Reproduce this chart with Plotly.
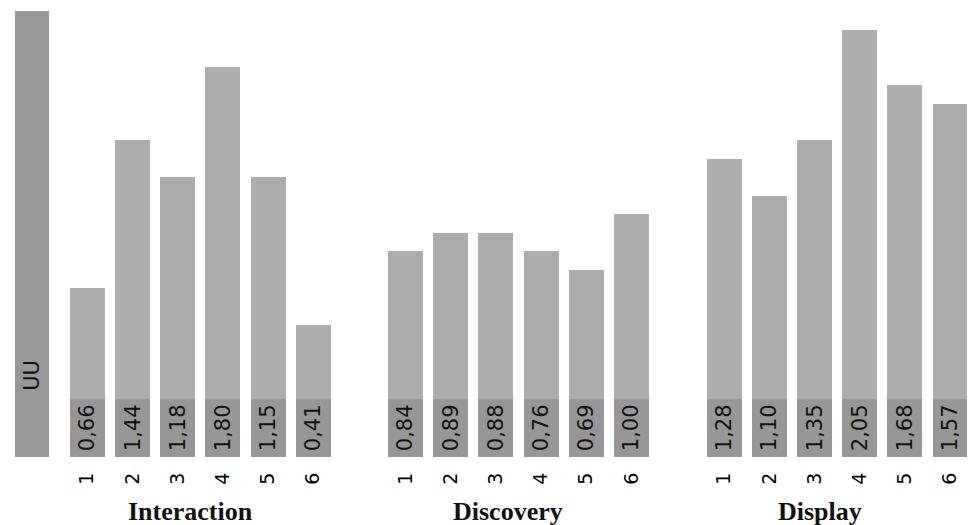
import plotly.graph_objects as go

# ---- data ----
group_names = ["Interaction", "Discovery", "Display"]
categories = ["1", "2", "3", "4", "5", "6"]
interaction_scores = [3, 7, 6, 9, 6, 2]
discovery_scores = [4, 4.5, 4.5, 4, 3.5, 5]
display_scores = [6.5, 5.5, 7, 10, 8.5, 8]
interaction_labels = ["0,66", "1,44", "1,18", "1,80", "1,15", "0,41"]
discovery_labels = ["0,84", "0,89", "0,88", "0,76", "0,69", "1,00"]
display_labels = ["1,28", "1,10", "1,35", "2,05", "1,68", "1,57"]
uu_category = ["UU"]
uu_score = [10.5]
band_height = 1.58

# ---- styles ----
LIGHT = "#ADADAD"
DARK = "#979797"
UU_COLOR = "#989898"
NUM_FONT = dict(family="DejaVu Sans", size=21, color="#111111")
TITLE_FONT = dict(family="Liberation Serif", size=26, color="#111111")

fig = go.Figure()

# UU bar
fig.add_trace(go.Bar(x=uu_category, y=[band_height], marker=dict(color=UU_COLOR, line=dict(width=0)),
                     xaxis="x", yaxis="y", hoverinfo="skip"))
fig.add_trace(go.Bar(x=uu_category, y=uu_score, marker=dict(color=UU_COLOR, line=dict(width=0)),
                     xaxis="x", yaxis="y", hoverinfo="skip"))

series = [
    (interaction_scores, interaction_labels, "x2"),
    (discovery_scores, discovery_labels, "x3"),
    (display_scores, display_labels, "x4"),
]
for scores, labels, xa in series:
    fig.add_trace(go.Bar(
        x=categories, y=[band_height] * len(categories), text=labels,
        textposition="inside", insidetextanchor="middle", textangle=-90,
        constraintext="none", insidetextfont=NUM_FONT,
        marker=dict(color=DARK, line=dict(width=0)),
        xaxis=xa, yaxis="y", hoverinfo="skip"))
    fig.add_trace(go.Bar(
        x=categories, y=scores,
        marker=dict(color=LIGHT, line=dict(width=0)),
        xaxis=xa, yaxis="y", hoverinfo="skip"))

common_x = dict(anchor="y", showgrid=False, zeroline=False, showline=False,
                type="category", fixedrange=True)
tick_x = dict(tickangle=-90, ticks="outside", ticklen=7, tickcolor="rgba(0,0,0,0)",
              tickfont=dict(family="DejaVu Sans", size=19, color="#000000"))

fig.update_layout(
    width=970, height=525,
    margin=dict(l=0, r=0, t=0, b=68, pad=0),
    paper_bgcolor="white", plot_bgcolor="white",
    barmode="stack", bargap=0.226, showlegend=False,
    yaxis=dict(domain=[0, 1], range=[0, 12.385], visible=False, anchor="x", fixedrange=True),
    xaxis=dict(domain=[0.0097, 0.0563], showticklabels=False, **common_x),
    xaxis2=dict(domain=[0.0667, 0.3463], range=[-0.5, 5.5], **common_x, **tick_x),
    xaxis3=dict(domain=[0.3947, 0.6743], range=[-0.5, 5.5], **common_x, **tick_x),
    xaxis4=dict(domain=[0.7233, 1.0], range=[-0.5, 5.443], **common_x, **tick_x),
)

annotations = [
    dict(x="UU", xref="x", y=2.2, yref="y", text="UU", textangle=-90, showarrow=False,
         font=dict(family="DejaVu Sans", size=21, color="#111111")),
]
shifts = [-10, -10, -16]
for name, xa, sh in zip(group_names, ["x2", "x3", "x4"], shifts):
    annotations.append(dict(
        x=0.5, xref=f"{xa} domain", y=0, yref="paper", yanchor="top", yshift=-38, xshift=sh,
        text=f"<b>{name}</b>", showarrow=False, font=TITLE_FONT))
fig.update_layout(annotations=annotations)

fig.write_html("out.html")
